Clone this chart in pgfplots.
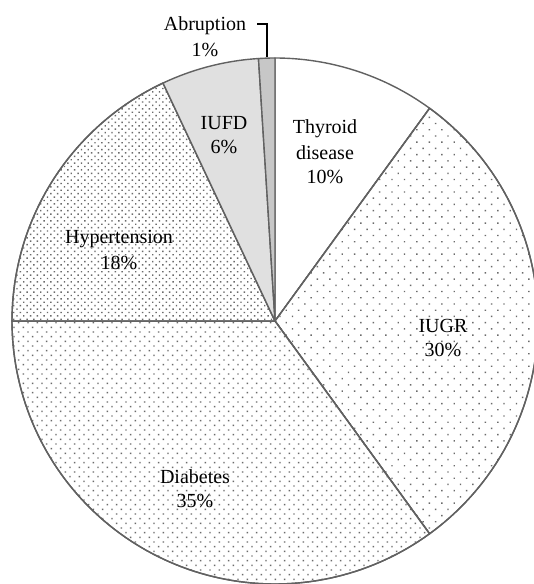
\documentclass[border=0pt]{standalone}
\usepackage{pgfplots}
\pgfplotsset{compat=1.18}
\usepackage{fontspec}
\setmainfont{Liberation Serif}
\usetikzlibrary{patterns.meta}
% shares in percent, clockwise from the top
% Thyroid 10, IUGR 30, Diabetes 35, Hypertension 18, IUFD 6, Abruption 1
\def\cx{275}\def\cy{263}\def\R{263}
\begin{document}
\begin{tikzpicture}
\begin{axis}[name=ax, hide axis, x=0.5pt, y=0.5pt,
  xmin=0, xmax=534, ymin=0, ymax=584, clip=true,
  every node/.style={font=\fontsize{11.2}{12}\selectfont, anchor=base, inner sep=0pt}]
\tikzset{wedge/.style={draw=black!62, line width=0.7pt, line join=round}}
% Thyroid disease 10
\addplot[wedge, fill=white, domain={90-3.6*10}:{90-3.6*0}, samples=40, variable=\t]
  ({\cx+\R*cos(\t)},{\cy+\R*sin(\t)}) -- (axis cs:\cx,\cy) -- cycle;
% IUGR 30
\addplot[wedge, fill=white, postaction={pattern={Dots[distance=4.4pt, angle=45, radius=0.5pt]}, pattern color=black!58},
  domain={90-3.6*40}:{90-3.6*10}, samples=80, variable=\t]
  ({\cx+\R*cos(\t)},{\cy+\R*sin(\t)}) -- (axis cs:\cx,\cy) -- cycle;
% Diabetes 35
\addplot[wedge, fill=white, postaction={pattern={Dots[distance=3.3pt, angle=45, radius=0.5pt]}, pattern color=black!58},
  domain={90-3.6*75}:{90-3.6*40}, samples=90, variable=\t]
  ({\cx+\R*cos(\t)},{\cy+\R*sin(\t)}) -- (axis cs:\cx,\cy) -- cycle;
% Hypertension 18
\addplot[wedge, fill=white, postaction={pattern={Dots[distance=2.4pt, angle=45, radius=0.5pt]}, pattern color=black!58},
  domain={90-3.6*93}:{90-3.6*75}, samples=50, variable=\t]
  ({\cx+\R*cos(\t)},{\cy+\R*sin(\t)}) -- (axis cs:\cx,\cy) -- cycle;
% IUFD 6
\addplot[wedge, fill=black!12, domain={90-3.6*99}:{90-3.6*93}, samples=20, variable=\t]
  ({\cx+\R*cos(\t)},{\cy+\R*sin(\t)}) -- (axis cs:\cx,\cy) -- cycle;
% Abruption 1
\addplot[wedge, fill=black!22, domain={90-3.6*100}:{90-3.6*99}, samples=8, variable=\t]
  ({\cx+\R*cos(\t)},{\cy+\R*sin(\t)}) -- (axis cs:\cx,\cy) -- cycle;
% leader line
\addplot[black, line width=0.6pt] coordinates {(257,560) (267,560) (267,527)};
% labels
\node at (axis cs:205,558) {Abruption};
\node at (axis cs:205,534) {1\%};
\node at (axis cs:325,455) {Thyroid};
\node at (axis cs:325,431) {disease};
\node at (axis cs:325,407) {10\%};
\node at (axis cs:224,461) {IUFD};
\node at (axis cs:224,437) {6\%};
\node at (axis cs:119,345) {Hypertension};
\node at (axis cs:119,321) {18\%};
\node at (axis cs:443,258) {IUGR};
\node at (axis cs:443,234) {30\%};
\node at (axis cs:195,107) {Diabetes};
\node at (axis cs:195,83) {35\%};
\end{axis}
\pgfresetboundingbox
\path (ax.south west) rectangle (ax.north east);
\end{tikzpicture}
\end{document}
